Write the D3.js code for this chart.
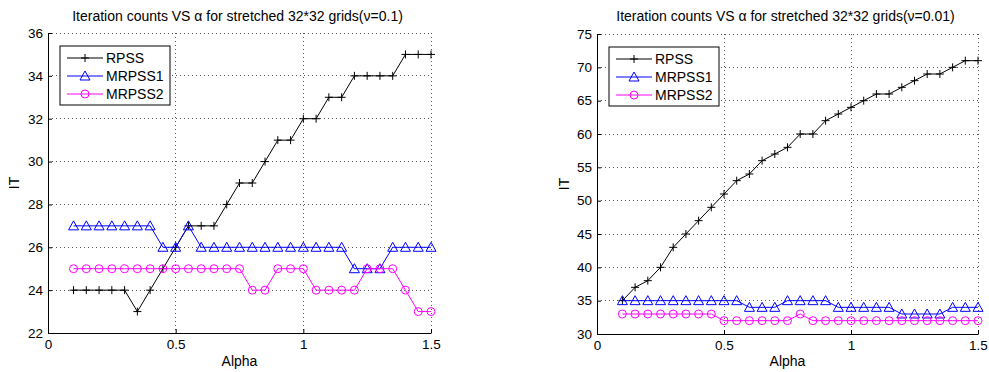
<!DOCTYPE html>
<html>
<head>
<meta charset="utf-8">
<script src="https://cdn.jsdelivr.net/npm/d3@7"></script>
<style>
  body { margin: 0; background: #fff; }
  svg text { font-family: "Liberation Sans", Arial, sans-serif; fill: #000; }
</style>
</head>
<body>
<svg id="chart" width="989" height="372"></svg>
<script>
// alpha values, 0.1 .. 1.5 step 0.05
const alpha = [0.1, 0.15, 0.2, 0.25, 0.3, 0.35, 0.4, 0.45, 0.5, 0.55, 0.6, 0.65, 0.7, 0.75, 0.8,
  0.85, 0.9, 0.95, 1.0, 1.05, 1.1, 1.15, 1.2, 1.25, 1.3, 1.35, 1.4, 1.45, 1.5];

// nu = 0.1
const rpssA   = [24, 24, 24, 24, 24, 23, 24, 25, 26, 27, 27, 27, 28, 29, 29, 30, 31, 31, 32, 32, 33, 33, 34, 34, 34, 34, 35, 35, 35];
const mrpss1A = [27, 27, 27, 27, 27, 27, 27, 26, 26, 27, 26, 26, 26, 26, 26, 26, 26, 26, 26, 26, 26, 26, 25, 25, 25, 26, 26, 26, 26];
const mrpss2A = [25, 25, 25, 25, 25, 25, 25, 25, 25, 25, 25, 25, 25, 25, 24, 24, 25, 25, 25, 24, 24, 24, 24, 25, 25, 25, 24, 23, 23];

// nu = 0.01
const rpssB   = [35, 37, 38, 40, 43, 45, 47, 49, 51, 53, 54, 56, 57, 58, 60, 60, 62, 63, 64, 65, 66, 66, 67, 68, 69, 69, 70, 71, 71];
const mrpss1B = [35, 35, 35, 35, 35, 35, 35, 35, 35, 35, 34, 34, 34, 35, 35, 35, 35, 34, 34, 34, 34, 34, 33, 33, 33, 33, 34, 34, 34];
const mrpss2B = [33, 33, 33, 33, 33, 33, 33, 33, 32, 32, 32, 32, 32, 32, 33, 32, 32, 32, 32, 32, 32, 32, 32, 32, 32, 32, 32, 32, 32];

const xTicks = [0, 0.5, 1, 1.5];
const yTicksA = [22, 24, 26, 28, 30, 32, 34, 36];
const yTicksB = [30, 35, 40, 45, 50, 55, 60, 65, 70, 75];
const seriesNames = ["RPSS", "MRPSS1", "MRPSS2"];

const svg = d3.select("#chart");

const styles = [
  { color: "#000000", marker: "plus" },
  { color: "#0000ff", marker: "tri" },
  { color: "#ff00ff", marker: "circle" }
];

function drawMarker(g, type, color, cx, cy) {
  if (type === "plus") {
    g.append("path").attr("d", `M${cx - 4},${cy}H${cx + 4}M${cx},${cy - 4}V${cy + 4}`)
      .attr("stroke", color).attr("stroke-width", 1).attr("fill", "none");
  } else if (type === "tri") {
    g.append("path").attr("d", `M${cx},${cy - 5}L${cx + 5},${cy + 4}L${cx - 5},${cy + 4}Z`)
      .attr("stroke", color).attr("stroke-width", 1).attr("fill", "none");
  } else {
    g.append("circle").attr("cx", cx).attr("cy", cy).attr("r", 4)
      .attr("stroke", color).attr("stroke-width", 1).attr("fill", "none");
  }
}

function panel(opts) {
  const { left, right, top, bottom, yDomain, yTicks, data, title, ylabelX } = opts;
  const g = svg.append("g");
  const x = d3.scaleLinear().domain([0, 1.5]).range([left, right]);
  const y = d3.scaleLinear().domain(yDomain).range([bottom, top]);

  // dotted grid
  const grid = g.append("g").attr("stroke", "#555").attr("stroke-width", 1)
    .attr("stroke-dasharray", "1,3").attr("shape-rendering", "crispEdges");
  xTicks.filter(t => t > 0).forEach(t => {
    grid.append("line").attr("x1", x(t)).attr("x2", x(t)).attr("y1", top).attr("y2", bottom);
  });
  yTicks.filter(t => t > yDomain[0]).forEach(t => {
    grid.append("line").attr("x1", left).attr("x2", right).attr("y1", y(t)).attr("y2", y(t));
  });

  // axes with inward ticks
  g.append("g").attr("transform", `translate(0,${bottom})`)
    .call(d3.axisBottom(x).tickValues(xTicks).tickFormat(d3.format("")).tickSizeInner(-4).tickSizeOuter(0).tickPadding(6))
    .call(a => a.selectAll("text").attr("font-size", 13.5).attr("font-family", "Liberation Sans, Arial"))
    .call(a => a.select(".domain").attr("stroke-width", 1));
  g.append("g").attr("transform", `translate(${left},0)`)
    .call(d3.axisLeft(y).tickValues(yTicks).tickSizeInner(-4).tickSizeOuter(0).tickPadding(5))
    .call(a => a.selectAll("text").attr("font-size", 13.5).attr("font-family", "Liberation Sans, Arial"))
    .call(a => a.select(".domain").attr("stroke-width", 1));

  // series
  data.forEach((vals, i) => {
    const st = styles[i];
    const pts = alpha.map((a, j) => [a, vals[j]]);
    g.append("path").datum(pts)
      .attr("fill", "none").attr("stroke", st.color).attr("stroke-width", 1)
      .attr("d", d3.line().x(d => x(d[0])).y(d => y(d[1])));
    const mg = g.append("g");
    pts.forEach(d => drawMarker(mg, st.marker, st.color, x(d[0]), y(d[1])));
  });

  // title & labels
  g.append("text").attr("x", (left + right) / 2 - 2).attr("y", 21).attr("text-anchor", "middle")
    .attr("font-size", 14).text(title);
  g.append("text").attr("x", (left + right) / 2).attr("y", 366).attr("text-anchor", "middle")
    .attr("font-size", 14).text("Alpha");
  g.append("text").attr("transform", `translate(${ylabelX},${(top + bottom) / 2}) rotate(-90)`)
    .attr("text-anchor", "middle").attr("font-size", 14).text("IT");

  // legend
  const lx = left + 12, ly = top + 13;
  const lg = g.append("g");
  lg.append("rect").attr("x", lx).attr("y", ly).attr("width", 110).attr("height", 59)
    .attr("fill", "#fff").attr("stroke", "#000").attr("stroke-width", 1);
  seriesNames.forEach((name, i) => {
    const yy = ly + 12 + i * 18;
    lg.append("line").attr("x1", lx + 7).attr("x2", lx + 43).attr("y1", yy).attr("y2", yy)
      .attr("stroke", styles[i].color).attr("stroke-width", 1);
    drawMarker(lg, styles[i].marker, styles[i].color, lx + 25, yy);
    lg.append("text").attr("x", lx + 46).attr("y", yy + 5).attr("font-size", 14).text(name);
  });
}

panel({
  left: 48, right: 431, top: 33, bottom: 333,
  yDomain: [22, 36], yTicks: yTicksA,
  data: [rpssA, mrpss1A, mrpss2A],
  title: "Iteration counts VS \u03b1 for stretched 32*32 grids(\u03bd=0.1)",
  ylabelX: 19
});

panel({
  left: 597, right: 978, top: 34, bottom: 334,
  yDomain: [30, 75], yTicks: yTicksB,
  data: [rpssB, mrpss1B, mrpss2B],
  title: "Iteration counts VS \u03b1 for stretched 32*32 grids(\u03bd=0.01)",
  ylabelX: 569
});
</script>
</body>
</html>
